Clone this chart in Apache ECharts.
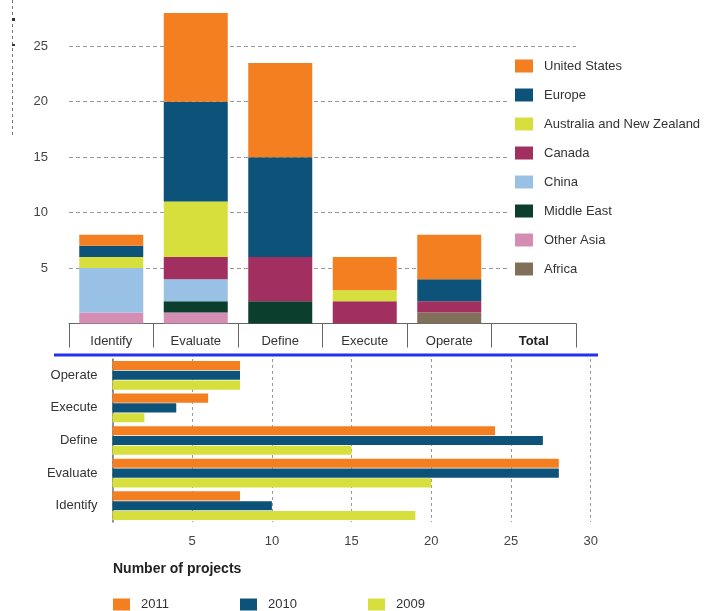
<!DOCTYPE html>
<html>
<head>
<meta charset="utf-8">
<script src="https://cdn.jsdelivr.net/npm/echarts@6/dist/echarts.min.js"></script>
<style>html,body{margin:0;padding:0;background:#fff;}#c{width:722px;height:611px;}</style>
</head>
<body>
<div id="c"></div>
<script>
// ---- Top chart (stacked by region) ----
const phases = ['Identify', 'Evaluate', 'Define', 'Execute', 'Operate', 'Total'];
const unitedStates = [1, 8, 8.5, 3, 4, null];
const europe       = [1, 9, 9, null, 2, null];
const anz          = [1, 5, null, 1, null, null];
const canada       = [null, 2, 4, 2, 1, null];
const china        = [4, 2, null, null, null, null];
const middleEast   = [null, 1, 2, null, null, null];
const otherAsia    = [1, 1, null, null, null, null];
const africa       = [null, null, null, null, 1, null];
const topTicks = [5, 10, 15, 20, 25];

// ---- Bottom chart (by year) ----
const phasesBottom = ['Identify', 'Evaluate', 'Define', 'Execute', 'Operate'];
const y2011 = [8, 28, 24, 6, 8];
const y2010 = [10, 28, 27, 4, 8];
const y2009 = [19, 20, 15, 2, 8];
const bottomTicks = [5, 10, 15, 20, 25, 30];

const C = {
  us: '#f47f20', eu: '#0d5279', anz: '#d6df3b', ca: '#a12f60',
  cn: '#98c1e5', me: '#0b3e2d', oa: '#d48eb4', af: '#80705a'
};
const FONT = 'Liberation Sans, Arial, sans-serif';

const chart = echarts.init(document.getElementById('c'), null, {renderer: 'canvas'});

function stackSeries(name, data, color) {
  return {
    name, type: 'bar', stack: 'regions', data, barWidth: 64,
    xAxisIndex: 0, yAxisIndex: 0,
    itemStyle: {color}, emphasis: {disabled: true}
  };
}
function yearSeries(name, data, color) {
  return {
    name, type: 'bar', data, xAxisIndex: 1, yAxisIndex: 1,
    barCategoryGap: '12%', barGap: '8%',
    itemStyle: {color}, emphasis: {disabled: true}
  };
}

const legendText = {color: '#333', fontSize: 13, fontFamily: FONT, padding: [0, 0, 0, 6]};

chart.setOption({
  animation: false,
  textStyle: {fontFamily: FONT},
  grid: [
    {left: 69, right: 146, top: 0, bottom: 287.5},
    {left: 112.5, right: 131.3, top: 359, bottom: 89}
  ],
  xAxis: [
    {
      gridIndex: 0, type: 'category', data: phases, boundaryGap: true,
      axisLine: {show: true, lineStyle: {color: '#666', width: 1}},
      axisTick: {show: true, length: 24, lineStyle: {color: '#666', width: 1}},
      axisLabel: {
        color: '#333', fontSize: 13, margin: 11, fontFamily: FONT,
        formatter: v => v === 'Total' ? '{b|Total}' : v,
        rich: {b: {fontWeight: 'bold', fontSize: 13, color: '#222', fontFamily: FONT}}
      }
    },
    {
      gridIndex: 1, type: 'value', min: 0, max: 30, interval: 5,
      axisLine: {show: false}, axisTick: {show: false},
      axisLabel: {
        color: '#444', fontSize: 13, margin: 13, fontFamily: FONT,
        formatter: v => bottomTicks.includes(v) ? String(v) : ''
      },
      splitLine: {show: true, lineStyle: {color: '#999', type: [3, 3], width: 1}}
    }
  ],
  yAxis: [
    {
      gridIndex: 0, type: 'value', min: 0, max: 29.17, interval: 5,
      axisLine: {show: false}, axisTick: {show: false},
      axisLabel: {
        color: '#444', fontSize: 13, margin: 21, fontFamily: FONT,
        showMaxLabel: false,
        formatter: v => topTicks.includes(v) ? String(v) : ''
      },
      splitLine: {show: true, showMaxLine: false, showMinLine: false, lineStyle: {color: '#999', type: [4, 3], width: 1}}
    },
    {
      gridIndex: 1, type: 'category', data: phasesBottom,
      axisLine: {show: true, lineStyle: {color: '#777', width: 1.5}},
      axisTick: {show: false},
      axisLabel: {color: '#333', fontSize: 13, margin: 15, fontFamily: FONT},
      splitLine: {show: false}
    }
  ],
  legend: [
    {
      data: ['United States', 'Europe', 'Australia and New Zealand', 'Canada', 'China', 'Middle East', 'Other Asia', 'Africa'],
      orient: 'vertical', left: 510, top: 54.5, padding: 5,
      backgroundColor: '#fff',
      itemWidth: 18, itemHeight: 13, itemGap: 16, icon: 'rect',
      selectedMode: false, textStyle: legendText
    },
    {data: ['2011'], left: 113, top: 598, padding: 0, itemWidth: 17, itemHeight: 12, icon: 'rect', selectedMode: false, textStyle: legendText},
    {data: ['2010'], left: 240, top: 598, padding: 0, itemWidth: 17, itemHeight: 12, icon: 'rect', selectedMode: false, textStyle: legendText},
    {data: ['2009'], left: 368, top: 598, padding: 0, itemWidth: 17, itemHeight: 12, icon: 'rect', selectedMode: false, textStyle: legendText}
  ],
  graphic: [
    {type: 'line', shape: {x1: 54, y1: 355, x2: 598, y2: 355}, style: {stroke: '#2430f0', lineWidth: 3}, z: 100},
    {type: 'line', shape: {x1: 12.5, y1: 0, x2: 12.5, y2: 138}, style: {stroke: '#777', lineWidth: 1, lineDash: [3, 3]}},
    {type: 'rect', shape: {x: 12, y: 18, width: 3, height: 3}, style: {fill: '#333'}},
    {type: 'rect', shape: {x: 12, y: 44, width: 3, height: 2}, style: {fill: '#333'}},
    {type: 'text', left: 113, top: 562, style: {text: 'Number of projects', font: 'bold 14px Liberation Sans, Arial, sans-serif', fill: '#222'}}
  ],
  series: [
    stackSeries('Africa', africa, C.af),
    stackSeries('Other Asia', otherAsia, C.oa),
    stackSeries('Middle East', middleEast, C.me),
    stackSeries('China', china, C.cn),
    stackSeries('Canada', canada, C.ca),
    stackSeries('Australia and New Zealand', anz, C.anz),
    stackSeries('Europe', europe, C.eu),
    stackSeries('United States', unitedStates, C.us),
    yearSeries('2011', y2011, C.us),
    yearSeries('2010', y2010, C.eu),
    yearSeries('2009', y2009, C.anz)
  ]
});
</script>
</body>
</html>
